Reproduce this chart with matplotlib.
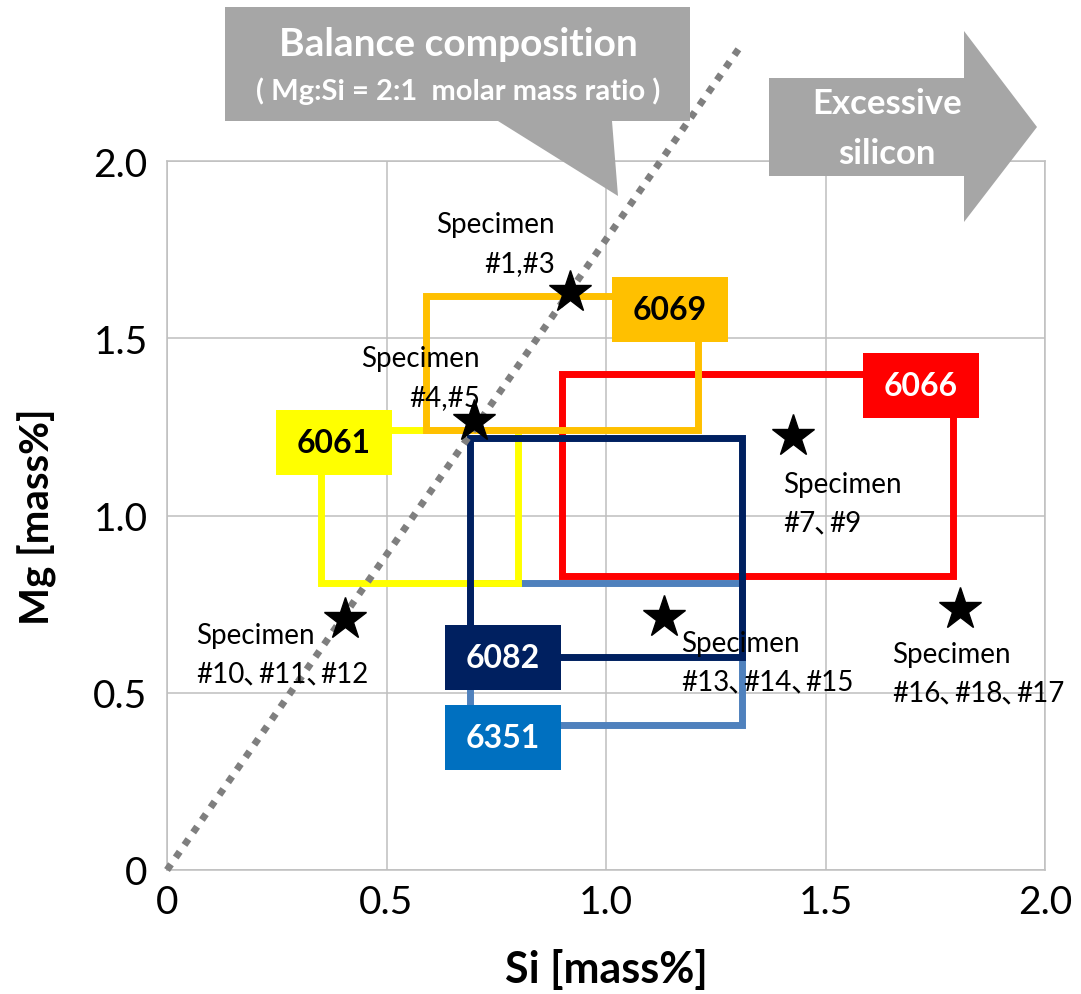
import matplotlib
matplotlib.use("Agg")
import matplotlib.pyplot as plt
from matplotlib.patches import Rectangle, Polygon
from matplotlib.transforms import offset_copy

plt.rcParams['font.family'] = ['Lato', 'Noto Sans CJK JP', 'DejaVu Sans']

# --- DATA ---
alloys = ["6351", "6061", "6066", "6082", "6069"]
si_min = [0.69, 0.35, 0.90, 0.69, 0.59]
si_max = [1.31, 0.80, 1.79, 1.31, 1.21]
mg_min = [0.41, 0.81, 0.83, 0.60, 1.24]
mg_max = [0.81, 1.24, 1.40, 1.22, 1.62]

spec_si = [0.918, 0.70, 1.426, 0.405, 1.132, 1.806]
spec_mg = [1.63, 1.267, 1.224, 0.708, 0.714, 0.736]
spec_labels = ["Specimen\n#1,#3", "Specimen\n#4,#5", "Specimen\n#7、#9",
               "Specimen\n#10、#11、#12", "Specimen\n#13、#14、#15",
               "Specimen\n#16、#18、#17"]

bal_si = [0.0, 1.31]
bal_mg = [0.0, 2.33]

ticks = [0, 0.5, 1.0, 1.5, 2.0]
tick_labels = ["0", "0.5", "1.0", "1.5", "2.0"]

# --- STYLE ---
line_colors = {"6351": "#4F81BD", "6061": "#FFFF00", "6066": "#FF0000",
               "6082": "#002060", "6069": "#FFC000"}
box_colors = {"6351": "#0070C0", "6061": "#FFFF00", "6066": "#FF0000",
              "6082": "#002060", "6069": "#FFC000"}
text_colors = {"6351": "white", "6061": "black", "6066": "white",
               "6082": "white", "6069": "black"}
# lower-left corner of each label box (data units)
box_pos = {"6351": (0.633, 0.282), "6061": (0.248, 1.114), "6066": (1.585, 1.275),
           "6082": (0.633, 0.508), "6069": (1.014, 1.489)}
box_w, box_h = 0.264, 0.183
# label anchors (cap top of first line): (x, y, ha)
spec_pos = [(0.884, 1.852, 'right'), (0.713, 1.474, 'right'), (1.403, 1.119, 'left'),
            (0.066, 0.693, 'left'), (1.171, 0.670, 'left'), (1.651, 0.639, 'left')]
SPEC_FS = 20

fig = plt.figure(figsize=(10.81, 9.95), dpi=100)
ax = fig.add_axes([167 / 1081, (995 - 871) / 995, (1045 - 167) / 1081, (871 - 162) / 995])

ax.set_xlim(0, 2.0)
ax.set_ylim(0, 2.0)
ax.set_xticks(ticks)
ax.set_yticks(ticks)
ax.set_xticklabels(tick_labels)
ax.set_yticklabels(tick_labels)
ax.tick_params(length=0, labelsize=28)
ax.tick_params(axis='x', pad=10)
ax.tick_params(axis='y', pad=14)
ax.grid(True, color="#BFBFBF", linewidth=1.1)
ax.set_axisbelow(True)
for sp in ax.spines.values():
    sp.set_color("#BFBFBF")
    sp.set_linewidth(1.1)

ax.set_xlabel("Si [mass%]", fontsize=31, fontweight='bold', labelpad=20)
ax.set_ylabel("Mg [mass%]", fontsize=29, fontweight='bold', labelpad=26)

# composition ranges
for i, name in enumerate(alloys):
    r = Rectangle((si_min[i], mg_min[i]), si_max[i] - si_min[i], mg_max[i] - mg_min[i],
                  fill=False, edgecolor=line_colors[name], linewidth=5, zorder=3 + i * 0.1,
                  joinstyle='miter')
    ax.add_patch(r)

# balance line
ax.plot(bal_si, bal_mg, color="#7F7F7F", linewidth=5, linestyle=(0, (1, 1.2)),
        dash_capstyle='butt', clip_on=False, zorder=4)

# alloy label boxes
for name in alloys:
    x0, y0 = box_pos[name]
    ax.add_patch(Rectangle((x0, y0), box_w, box_h, facecolor=box_colors[name],
                           edgecolor='none', zorder=5))
    ax.text(x0 + box_w / 2, y0 + box_h / 2, name, ha='center', va='center',
            fontsize=23, fontweight='bold', color=text_colors[name], zorder=6)

# specimens
ax.plot(spec_si, spec_mg, linestyle='none', marker='*', markersize=32,
        color='black', zorder=7, clip_on=False)

renderer = fig.canvas.get_renderer()
px2pt = 72 / fig.dpi


def spec_text(x, y, label, ha):
    first, second = label.split("\n")
    base1 = -19 * px2pt
    base2 = -58 * px2pt
    ax.text(x, y, first, ha=ha, va='baseline', fontsize=SPEC_FS, zorder=6,
            transform=offset_copy(ax.transData, fig=fig, x=0, y=base1, units='points'))
    parts = second.split("、")
    if len(parts) == 1:
        ax.text(x, y, second, ha=ha, va='baseline', fontsize=SPEC_FS, zorder=6,
                transform=offset_copy(ax.transData, fig=fig, x=0, y=base2, units='points'))
        return
    # keep the ideographic comma narrow, as in the original
    dx = 0.0
    for k, part in enumerate(parts):
        t = ax.text(x, y, part, ha='left', va='baseline', fontsize=SPEC_FS, zorder=6,
                    transform=offset_copy(ax.transData, fig=fig, x=dx, y=base2,
                                          units='points'))
        dx += t.get_window_extent(renderer).width * px2pt
        if k < len(parts) - 1:
            ax.text(x, y, "、", ha='left', va='baseline', fontsize=SPEC_FS, zorder=6,
                    transform=offset_copy(ax.transData, fig=fig, x=dx - 0.05 * SPEC_FS,
                                          y=base2, units='points'))
            dx += 0.5 * SPEC_FS


for (x, y, ha), lab in zip(spec_pos, spec_labels):
    spec_text(x, y, lab, ha)

# --- callouts (pixel overlay) ---
ov = fig.add_axes([0, 0, 1, 1], zorder=10)
ov.set_xlim(0, 1081)
ov.set_ylim(995, 0)
ov.axis('off')
ov.patch.set_alpha(0)
grey = "#A6A6A6"
ov.add_patch(Polygon([(225, 8), (690, 8), (690, 122), (612, 122), (618, 197),
                      (498, 122), (225, 122)], closed=True, facecolor=grey,
                     edgecolor='none'))
ov.text(458, 44, "Balance composition", ha='center', va='center', fontsize=28,
        fontweight='bold', color='white')
ov.text(458, 91, "( Mg:Si = 2:1  molar mass ratio )", ha='center', va='center',
        fontsize=21, fontweight='bold', color='white')
ov.add_patch(Polygon([(769, 79), (964, 79), (964, 32), (1037, 128), (964, 223),
                      (964, 177), (769, 177)], closed=True, facecolor=grey,
                     edgecolor='none'))
ov.text(887, 104, "Excessive", ha='center', va='center', fontsize=25,
        fontweight='bold', color='white')
ov.text(887, 154, "silicon", ha='center', va='center', fontsize=25,
        fontweight='bold', color='white')

fig.savefig("out.png", dpi=100)
